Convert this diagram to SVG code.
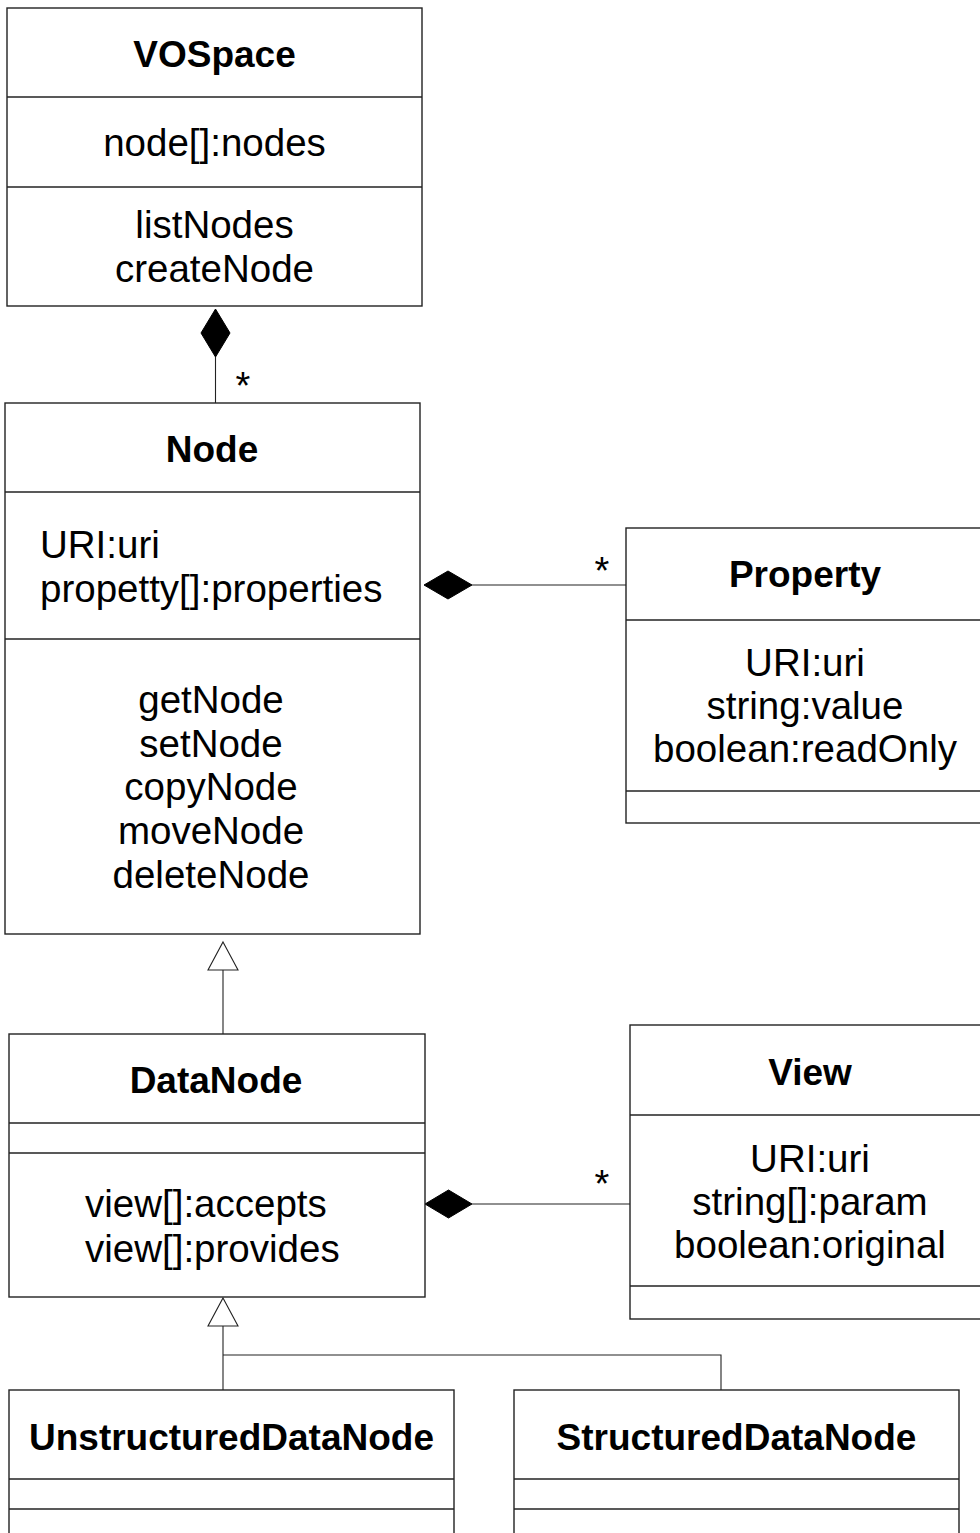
<svg xmlns="http://www.w3.org/2000/svg" width="980" height="1533" viewBox="0 0 980 1533">
<style>
.box{fill:#fff;stroke:#222;stroke-width:1.4}
.div{stroke:#222;stroke-width:1.4;fill:none}
.t{font-family:"Liberation Sans",Arial,sans-serif;font-size:38.5px;fill:#000}
.b{font-family:"Liberation Sans",Arial,sans-serif;font-size:37px;font-weight:bold;fill:#000}
.c{text-anchor:middle}
.ln{stroke:#222;stroke-width:1.1;fill:none}
.dia{fill:#000;stroke:#000;stroke-width:1}
.tri{fill:#fff;stroke:#222;stroke-width:1.1}
.m{font-family:"Liberation Sans",Arial,sans-serif;font-size:38px;fill:#000;text-anchor:middle}
</style>
<rect width="980" height="1533" fill="#fff"/>
<g id="connectors">
  <line class="ln" x1="215.5" y1="357" x2="215.5" y2="403"/>
  <polygon class="dia" points="215.5,309 230,333 215.5,357 201,333"/>
  <text class="m" x="243" y="399">*</text>
  <line class="ln" x1="472" y1="585" x2="626" y2="585"/>
  <polygon class="dia" points="424,585 448,571 472,585 448,599"/>
  <text class="m" x="602" y="584">*</text>
  <line class="ln" x1="223" y1="970" x2="223" y2="1034"/>
  <polygon class="tri" points="223,942 238,970 208,970"/>
  <line class="ln" x1="472" y1="1204" x2="630" y2="1204"/>
  <polygon class="dia" points="425,1204 448.5,1190 472,1204 448.5,1218"/>
  <text class="m" x="602" y="1197">*</text>
  <polyline class="ln" points="223,1326 223,1390"/>
  <polyline class="ln" points="223,1355 721,1355 721,1390"/>
  <polygon class="tri" points="223,1298 238,1326 208,1326"/>
</g>
<g id="VOSpace">
  <rect class="box" x="7" y="8" width="415" height="298"/>
  <line class="div" x1="7" y1="97" x2="422" y2="97"/>
  <line class="div" x1="7" y1="187" x2="422" y2="187"/>
  <text class="b c" x="214.5" y="67">VOSpace</text>
  <text class="t c" x="214.5" y="156">node[]:nodes</text>
  <text class="t c" x="214.5" y="238">listNodes</text>
  <text class="t c" x="214.5" y="282">createNode</text>
</g>
<g id="Node">
  <rect class="box" x="5" y="403" width="415" height="531"/>
  <line class="div" x1="5" y1="492" x2="420" y2="492"/>
  <line class="div" x1="5" y1="639" x2="420" y2="639"/>
  <text class="b c" x="212" y="462">Node</text>
  <text class="t" x="40" y="558">URI:uri</text>
  <text class="t" x="40" y="602">propetty[]:properties</text>
  <text class="t c" x="211" y="713">getNode</text>
  <text class="t c" x="211" y="757">setNode</text>
  <text class="t c" x="211" y="800">copyNode</text>
  <text class="t c" x="211" y="844">moveNode</text>
  <text class="t c" x="211" y="888">deleteNode</text>
</g>
<g id="Property">
  <rect class="box" x="626" y="528" width="360" height="295"/>
  <line class="div" x1="626" y1="620" x2="986" y2="620"/>
  <line class="div" x1="626" y1="791" x2="986" y2="791"/>
  <text class="b c" x="805" y="587">Property</text>
  <text class="t c" x="805" y="676">URI:uri</text>
  <text class="t c" x="805" y="719">string:value</text>
  <text class="t c" x="805" y="762">boolean:readOnly</text>
</g>
<g id="DataNode">
  <rect class="box" x="9" y="1034" width="416" height="263"/>
  <line class="div" x1="9" y1="1123" x2="425" y2="1123"/>
  <line class="div" x1="9" y1="1153" x2="425" y2="1153"/>
  <text class="b c" x="216" y="1093">DataNode</text>
  <text class="t" x="85" y="1217">view[]:accepts</text>
  <text class="t" x="85" y="1262">view[]:provides</text>
</g>
<g id="View">
  <rect class="box" x="630" y="1025" width="360" height="294"/>
  <line class="div" x1="630" y1="1115" x2="990" y2="1115"/>
  <line class="div" x1="630" y1="1286" x2="990" y2="1286"/>
  <text class="b c" x="810" y="1085">View</text>
  <text class="t c" x="810" y="1172">URI:uri</text>
  <text class="t c" x="810" y="1215">string[]:param</text>
  <text class="t c" x="810" y="1258">boolean:original</text>
</g>
<g id="UnstructuredDataNode">
  <rect class="box" x="9" y="1390" width="445" height="160"/>
  <line class="div" x1="9" y1="1479" x2="454" y2="1479"/>
  <line class="div" x1="9" y1="1509" x2="454" y2="1509"/>
  <text class="b c" x="231.5" y="1450">UnstructuredDataNode</text>
</g>
<g id="StructuredDataNode">
  <rect class="box" x="514" y="1390" width="445" height="160"/>
  <line class="div" x1="514" y1="1479" x2="959" y2="1479"/>
  <line class="div" x1="514" y1="1509" x2="959" y2="1509"/>
  <text class="b c" x="736.5" y="1450">StructuredDataNode</text>
</g>
</svg>
